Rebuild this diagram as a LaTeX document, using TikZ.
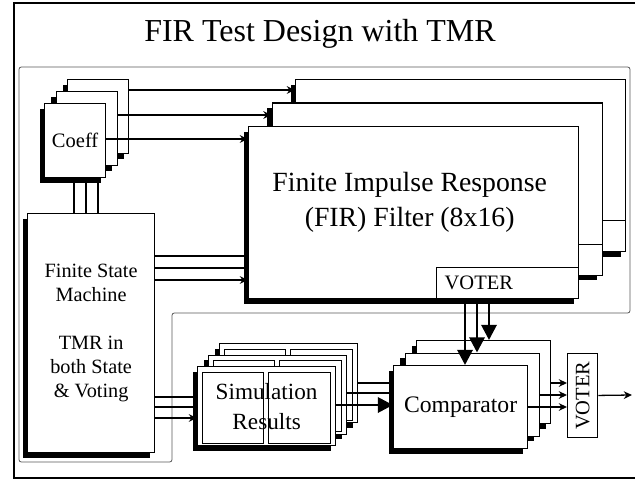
\documentclass[tikz,border=0pt]{standalone}
\usepackage{fontspec}
\setmainfont{Liberation Serif}
\usepackage{tikz}
\usetikzlibrary{calc}
\usetikzlibrary{positioning}
\usetikzlibrary{shadows}
\usetikzlibrary{arrows.meta}
\tikzset{>={Stealth[length = 7pt, width = 6.5pt]}}

\begin{document}
\begin{tikzpicture}[x = 0.03cm, y = -0.03cm, line width = 1.1pt,
    blk/.style = {draw, fill = white, anchor = north west, inner sep = 0pt,
        drop shadow = {shadow xshift = -0.15cm, shadow yshift = -0.15cm, fill = black, opacity = 1}},
    coeffbox/.style = {blk, minimum width = 1.83cm, minimum height = 2.22cm, font = \fontsize{17.5}{20}\selectfont},
    firbox/.style = {blk, minimum width = 9.9cm, minimum height = 5.16cm},
    fsmbox/.style = {blk, minimum width = 3.81cm, minimum height = 7.17cm, align = center, font = \fontsize{17.3}{20.5}\selectfont},
    simbox/.style = {blk, minimum width = 4.14cm, minimum height = 2.37cm, align = center, font = \fontsize{19.8}{25.5}\selectfont},
    cmpbox/.style = {blk, minimum width = 4.02cm, minimum height = 2.49cm, font = \fontsize{20.2}{24}\selectfont},
    voterbox/.style = {draw, fill = white, anchor = south east, minimum height = 0.93cm, inner sep = 0.24cm,
        text width = 3.78cm, align = left, font = \fontsize{17.5}{20}\selectfont},
    split/.style = {line width = 0.6pt},
    bus/.style = {line width = 2.4pt, -{Triangle[length = 13pt, width = 13pt]}}]
    \useasboundingbox (0,0) rectangle (635,480);
    \draw [line width = 1.3pt] (635,3) -- (14,3) -- (14,478) -- (635,478);
    \draw [black!65, line width = 0.7pt, rounded corners = 2pt] (19,67) -- (630,67) -- (630,313) -- (172,313) -- (172,462) -- (19,462) -- cycle;
    \node (T) [anchor = base, font = \fontsize{27.3}{32}\selectfont] at (320,42) {FIR Test Design with TMR};

    \node (FSM) [fsmbox] at (27,213) {Finite State\\Machine\\[20.5pt]TMR in\\both State\\\& Voting};

    \node (C3) [coeffbox] at (67,79) {};
    \node (F3) [firbox] at (295,79) {};
    \node (V3) [voterbox] at (F3.south east) {};
    \draw [->] (C3.east |- 0,90) -- (F3.west |- 0,90);
    \draw [->] (FSM.east |- 0,256) -- (F3.west |- 0,256);
    \draw (FSM.north -| 98,0) -- (C3.south -| 98,0);

    \node (C2) [coeffbox] at (55.5,91) {};
    \node (F2) [firbox] at (271.5,102.5) {};
    \node (V2) [voterbox] at (F2.south east) {};
    \draw [->] (C2.east |- 0,115) -- (F2.west |- 0,115);
    \draw [->] (FSM.east |- 0,268) -- (F2.west |- 0,268);
    \draw (FSM.north -| 86,0) -- (C2.south -| 86,0);

    \node (C1) [coeffbox] at (44,103) {Coeff};
    \node (F1) [firbox] at (248,126) {};
    \node (V1) [voterbox] at (F1.south east) {VOTER};
    \draw [->] (C1.east |- 0,139) -- (F1.west |- 0,139);
    \draw [->] (FSM.east |- 0,280) -- (F1.west |- 0,280);
    \draw (FSM.north -| 74,0) -- (C1.south -| 74,0);

    \node (FT) [align = center, font = \fontsize{23.7}{29.9}\selectfont] at ($(F1.center)+(-4,-10)$) {Finite Impulse Response\\(FIR) Filter (8x16)};

    \node (VO) [draw, fill = white, minimum width = 0.9cm, minimum height = 2.52cm, inner sep = 0pt, anchor = north west,
        font = \fontsize{17.5}{20}\selectfont] at (567,353) {\rotatebox{90}{VOTER}};
    \coordinate (out) at (632,395);

    \node (S3) [simbox] at (219,343) {};
    \draw [split] ($(S3.north west)+(5,6)$) rectangle ($(S3.south)+(-3,-3)$);
    \draw [split] ($(S3.north)+(2,6)$) rectangle ($(S3.south east)+(-6,-3)$);
    \node (K3) [cmpbox] at (416,340) {};
    \draw [->] (FSM.east |- 0,397) -- (S3.west |- 0,397);
    \draw [bus] (S3.east |- 0,383) -- (K3.west |- 0,383);
    \draw [bus] (V1.south -| 489,0) -- (K3.north -| 489,0);
    \draw [->] (K3.east |- 0,383) -- (VO.west |- 0,383);

    \node (S2) [simbox] at (208,354.5) {};
    \draw [split] ($(S2.north west)+(5,6)$) rectangle ($(S2.south)+(-3,-3)$);
    \draw [split] ($(S2.north)+(2,6)$) rectangle ($(S2.south east)+(-6,-3)$);
    \node (K2) [cmpbox] at (404.5,352.5) {};
    \draw [->] (FSM.east |- 0,407) -- (S2.west |- 0,407);
    \draw [bus] (S2.east |- 0,393) -- (K2.west |- 0,393);
    \draw [bus] (V1.south -| 477,0) -- (K2.north -| 477,0);
    \draw [->] (K2.east |- 0,395) -- (VO.west |- 0,395);

    \node (S1) [simbox] at (197,366) {Simulation\\Results};
    \draw [split] ($(S1.north west)+(5,6)$) rectangle ($(S1.south)+(-3,-3)$);
    \draw [split] ($(S1.north)+(2,6)$) rectangle ($(S1.south east)+(-6,-3)$);
    \node (K1) [cmpbox] at (393,365) {Comparator};
    \draw [->] (FSM.east |- 0,418) -- (S1.west |- 0,418);
    \draw [bus] (S1.east |- 0,405) -- (K1.west |- 0,405);
    \draw [bus] (V1.south -| 465,0) -- (K1.north -| 465,0);
    \draw [->] (K1.east |- 0,407) -- (VO.west |- 0,407);

    \draw [->] (VO) -- (out);
\end{tikzpicture}
\end{document}
